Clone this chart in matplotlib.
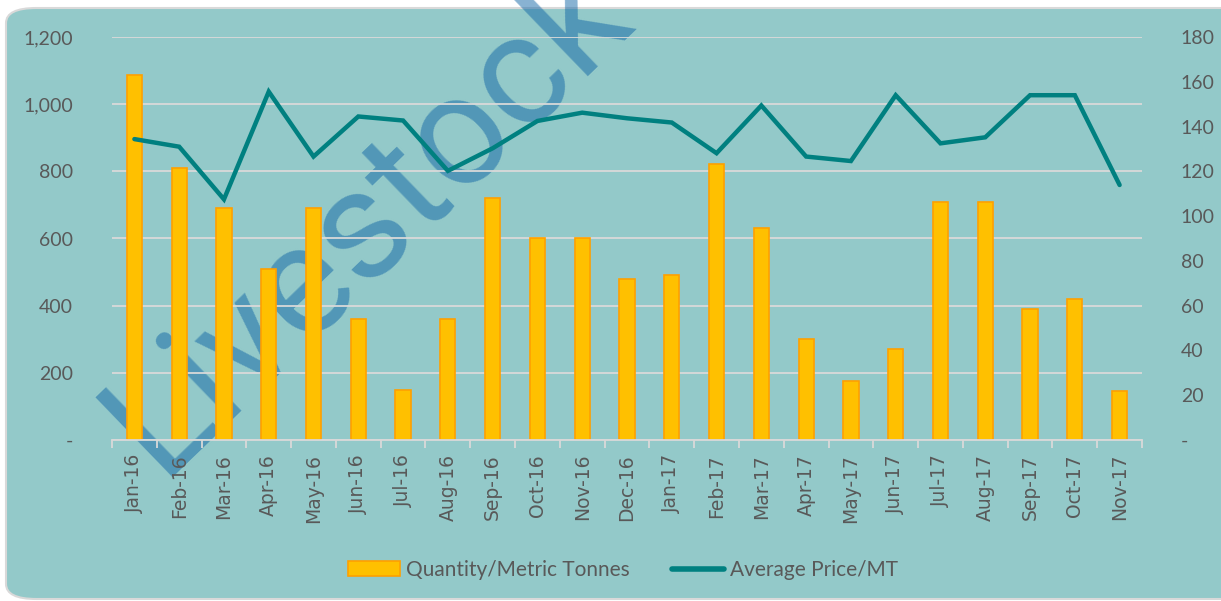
import numpy as np
import matplotlib.pyplot as plt
from matplotlib.patches import FancyBboxPatch, Patch
from matplotlib.lines import Line2D
from matplotlib.ticker import FixedLocator, FuncFormatter

# data
months = ['Jan-16', 'Feb-16', 'Mar-16', 'Apr-16', 'May-16', 'Jun-16', 'Jul-16', 'Aug-16',
          'Sep-16', 'Oct-16', 'Nov-16', 'Dec-16', 'Jan-17', 'Feb-17', 'Mar-17', 'Apr-17',
          'May-17', 'Jun-17', 'Jul-17', 'Aug-17', 'Sep-17', 'Oct-17', 'Nov-17']
quantity = [1088, 809, 690, 509, 690, 360, 149, 360,
            720, 600, 600, 480, 490, 823, 630, 300,
            175, 270, 710, 708, 390, 420, 146]
avg_price = [134.4, 131.0, 107.5, 155.6, 126.6, 144.5, 142.7, 120.2,
             130.3, 142.5, 146.2, 143.7, 141.8, 128.1, 149.4, 126.6,
             124.6, 154.0, 132.5, 135.2, 154.0, 154.0, 113.9]
left_ticks = [0, 200, 400, 600, 800, 1000, 1200]
right_ticks = [0, 20, 40, 60, 80, 100, 120, 140, 160, 180]

W, H = 1221, 601
bg = '#93C9C9'
txt = '#595959'
grid_c = '#D9D9D9'

plt.rcParams['font.family'] = ['Lato', 'DejaVu Sans']

fig = plt.figure(figsize=(W / 100, H / 100), dpi=100, facecolor='white')

# rounded chart area
area = FancyBboxPatch((6 / W, 2 / H), 1.05, (H - 10) / H,
                      boxstyle='round,pad=0,rounding_size=0.025',
                      transform=fig.transFigure, facecolor=bg,
                      edgecolor=grid_c, linewidth=1.5, zorder=0)
fig.patches.append(area)

# watermark, drawn behind the plot
fig.text(160 / W, 1 - 478 / H, 'Livestock', rotation=44, fontsize=112,
         family='Roboto', color='#1165A5', alpha=0.5,
         ha='left', va='baseline', rotation_mode='anchor', zorder=1)

ax = fig.add_axes([112 / W, 1 - 440 / H, (1142 - 112) / W, 403 / H])
ax.set_facecolor('none')
ax.set_zorder(2)
x = np.arange(len(months))

ax.bar(x, quantity, width=0.34, color='#FFC000', edgecolor='#FFA000',
       linewidth=1.2, zorder=3)
ax.set_xlim(-0.5, len(months) - 0.5)
ax.set_ylim(0, 1200)
ax.set_yticks(left_ticks)
ax.yaxis.set_major_formatter(FuncFormatter(lambda v, p: '-' if v == 0 else f'{int(v):,}'))
ax.grid(axis='y', color=grid_c, linewidth=1.3, zorder=1)
ax.set_axisbelow(True)

for s in ['top', 'left', 'right']:
    ax.spines[s].set_visible(False)
ax.spines['bottom'].set_color(grid_c)
ax.spines['bottom'].set_linewidth(1.3)
ax.spines['bottom'].set_zorder(4)

ax.set_xticks(x)
ax.set_xticklabels(months, rotation=90, fontsize=13.5, color=txt, family='DejaVu Sans')
ax.tick_params(axis='x', length=0, pad=10)
ax.xaxis.set_minor_locator(FixedLocator(np.arange(-0.5, len(months), 1)))
ax.tick_params(axis='x', which='minor', length=6, width=1.3, color=grid_c)
ax.tick_params(axis='y', length=0, pad=28, labelsize=14, labelcolor=txt)

ax2 = ax.twinx()
ax2.plot(x, avg_price, color='#008080', linewidth=3.2, solid_capstyle='round',
         solid_joinstyle='miter', zorder=5)
ax2.set_ylim(0, 180)
ax2.set_yticks(right_ticks)
ax2.yaxis.set_major_formatter(FuncFormatter(lambda v, p: '-' if v == 0 else f'{int(v)}'))
ax2.tick_params(axis='y', length=0, pad=28, labelsize=14, labelcolor=txt)
for s in ax2.spines.values():
    s.set_visible(False)

handles = [Patch(facecolor='#FFC000', edgecolor='#FFA000', linewidth=1.2),
           Line2D([0], [0], color='#008080', linewidth=4, solid_capstyle='round')]
fig.legend(handles, ['Quantity/Metric Tonnes', 'Average Price/MT'],
           loc='center', bbox_to_anchor=(623 / W, 1 - 570 / H), ncol=2,
           frameon=False, fontsize=15, labelcolor=txt, handlelength=2.5,
           handleheight=0.7, handletextpad=0.3, columnspacing=2.0)

fig.savefig('out.png', dpi=100, facecolor='white')
